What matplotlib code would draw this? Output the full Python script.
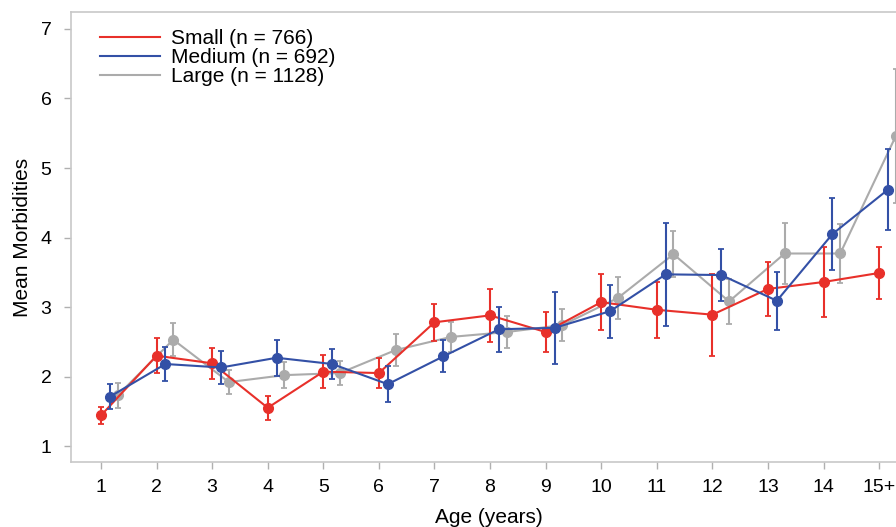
import matplotlib
matplotlib.use('Agg')
import matplotlib.pyplot as plt
import numpy as np

plt.rcParams['font.family'] = ['Liberation Sans', 'DejaVu Sans']

# Age groups
ages = ['1', '2', '3', '4', '5', '6', '7', '8', '9', '10', '11', '12', '13', '14', '15+']

# Mean morbidities and error half-widths per practice size
small_mean = [1.44, 2.30, 2.19, 1.55, 2.07, 2.05, 2.78, 2.88, 2.64, 3.07, 2.96, 2.89, 3.26, 3.36, 3.49]
small_err = [0.12, 0.25, 0.22, 0.17, 0.24, 0.22, 0.27, 0.38, 0.29, 0.40, 0.40, 0.59, 0.39, 0.51, 0.38]

medium_mean = [1.71, 2.18, 2.13, 2.27, 2.18, 1.89, 2.29, 2.68, 2.70, 2.94, 3.47, 3.46, 3.09, 4.05, 4.69]
medium_err = [0.18, 0.24, 0.24, 0.26, 0.21, 0.26, 0.23, 0.32, 0.52, 0.38, 0.74, 0.37, 0.42, 0.52, 0.58]

large_mean = [1.73, 2.53, 1.92, 2.02, 2.05, 2.38, 2.57, 2.64, 2.74, 3.13, 3.76, 3.08, 3.77, 3.77, 5.46]
large_err = [0.18, 0.24, 0.17, 0.19, 0.17, 0.23, 0.22, 0.23, 0.23, 0.30, 0.33, 0.33, 0.44, 0.43, 0.97]

x = np.arange(1, len(ages) + 1)

fig = plt.figure(figsize=(8.96, 5.27), dpi=100)
ax = fig.add_axes([0.0792, 0.1233, 0.933, 0.854])

series = [
    ('Large (n = 1128)', large_mean, large_err, '#ababab', 0.30, 2),
    ('Small (n = 766)', small_mean, small_err, '#e8302a', 0.0, 3),
    ('Medium (n = 692)', medium_mean, medium_err, '#3350a6', 0.16, 4),
]

handles = {}
for label, mean, err, color, offset, z in series:
    ax.errorbar(x + offset, mean, yerr=err, color=color, marker='o',
                markersize=7, linewidth=1.5, elinewidth=1.5,
                capsize=2.5, capthick=1.3, zorder=z)
    line, = ax.plot([], [], color=color, linewidth=1.5)
    handles[label] = line

order = ['Small (n = 766)', 'Medium (n = 692)', 'Large (n = 1128)']
ax.legend([handles[k] for k in order], order, loc='upper left',
          frameon=False, fontsize=15, handlelength=2.9,
          handletextpad=0.5, labelspacing=0.0,
          bbox_to_anchor=(0.012, 1.004))

ax.set_xlim(0.46, 15.5)
ax.set_ylim(0.77, 7.245)
ax.set_xticks(x)
ax.set_xticklabels(ages)
ax.set_yticks([1, 2, 3, 4, 5, 6, 7])

for side in ['left', 'bottom', 'top']:
    ax.spines[side].set_color('#c8c8c8')
    ax.spines[side].set_linewidth(1.2)
ax.spines['right'].set_visible(False)

ax.tick_params(axis='both', colors='#b0b0b0', labelcolor='black',
               labelsize=14, length=5, width=1)
ax.tick_params(axis='x', pad=7)
ax.tick_params(axis='y', pad=9)

ax.set_xlabel('Age (years)', fontsize=15, labelpad=9)
ax.set_ylabel('Mean Morbidities', fontsize=15, labelpad=6)

fig.savefig('out.png', dpi=100)
